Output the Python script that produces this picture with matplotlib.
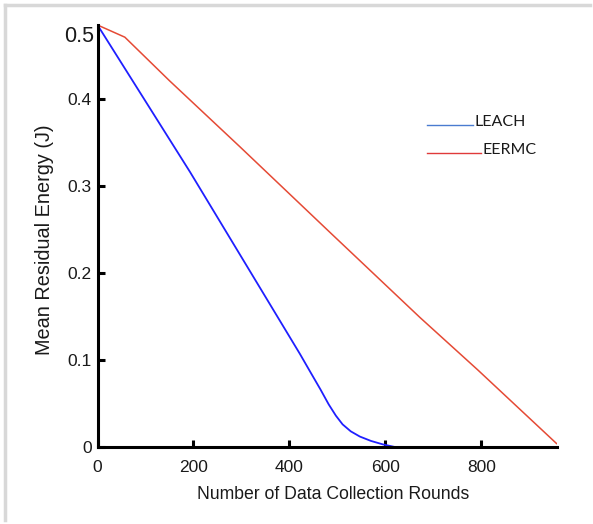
import matplotlib
matplotlib.use("Agg")
import matplotlib.pyplot as plt
from matplotlib.lines import Line2D

# Data
leach_rounds = [0, 193, 353, 422, 445, 465, 482, 497, 511, 528, 547, 570, 595, 620]
leach_energy = [0.485, 0.316, 0.170, 0.107, 0.085, 0.066, 0.049, 0.036, 0.026, 0.018, 0.012, 0.007, 0.003, 0.0]
eermc_rounds = [0, 57, 150, 297, 484, 672, 793, 957]
eermc_energy = [0.485, 0.471, 0.421, 0.345, 0.247, 0.149, 0.0885, 0.004]
y_ticks = [0, 0.1, 0.2, 0.3, 0.4]
y_tick_labels = ["0", "0.1", "0.2", "0.3", "0.4"]
x_ticks = [0, 200, 400, 600, 800]
series_names = ["LEACH", "EERMC"]

W, H = 593, 524
fig = plt.figure(figsize=(W / 100, H / 100), dpi=100)
fig.patch.set_facecolor("white")
ax = fig.add_axes([97.5 / W, (H - 447) / H, (557 - 97.5) / W, (447 - 25) / H])

ax.plot(leach_rounds, leach_energy, color="#1f1fff", lw=1.3)
ax.plot(eermc_rounds, eermc_energy, color="#e54a35", lw=1.1)

ax.set_xlim(0, 958)
ax.set_ylim(0, 0.485)
for s in ["top", "right"]:
    ax.spines[s].set_visible(False)
for s in ["left", "bottom"]:
    ax.spines[s].set_linewidth(2.2)
    ax.spines[s].set_color("black")

ax.set_xticks(x_ticks)
ax.set_xticklabels([str(v) for v in x_ticks])
ax.set_yticks(y_ticks)
ax.set_yticklabels(y_tick_labels)
ax.tick_params(direction="in", length=5, width=2.2, labelsize=12.5,
               labelcolor="#1a1a1a")
ax.tick_params(axis="x", pad=9)
ax.tick_params(axis="y", pad=4)
for lab in ax.get_xticklabels() + ax.get_yticklabels():
    lab.set_family("Liberation Sans")

# '0.5' label at the top
fig.text(94 / W, 1 - 37 / H, "0.5", ha="right", va="center", fontsize=15.5,
         family="Liberation Sans", color="#1a1a1a")

ax.set_xlabel("Number of Data Collection Rounds", fontsize=12.7,
              family="Liberation Sans", color="#1a1a1a", labelpad=7)
ax.xaxis.set_label_coords((333 - 97.5) / (557 - 97.5), -0.092)
fig.text(45 / W, 1 - 240 / H, "Mean Residual Energy (J)", rotation=90,
         ha="center", va="center", fontsize=14.3, family="Liberation Sans",
         color="#1a1a1a")

# Legend drawn manually
leg_colors = ["#4a7bd0", "#e03a3a"]
leg_y = [125, 153]
leg_x_end = [473, 481]
for name, c, yy, xe in zip(series_names, leg_colors, leg_y, leg_x_end):
    fig.add_artist(Line2D([427 / W, xe / W], [1 - yy / H, 1 - yy / H],
                          color=c, lw=1.0, transform=fig.transFigure))
    fig.text((xe + 1) / W, 1 - (yy + 1) / H, name, ha="left", va="baseline",
             fontsize=11.5, family="Lato", color="#1a1a1a")

# light gray frame lines (top and left)
fig.add_artist(Line2D([5 / W, 590 / W], [1 - 5 / H, 1 - 5 / H],
                      color="#d8d8d8", lw=2.5, transform=fig.transFigure))
fig.add_artist(Line2D([5 / W, 5 / W], [1 - 5 / H, 1 - 520 / H],
                      color="#d8d8d8", lw=2.5, transform=fig.transFigure))

fig.savefig("out.png", dpi=100)
